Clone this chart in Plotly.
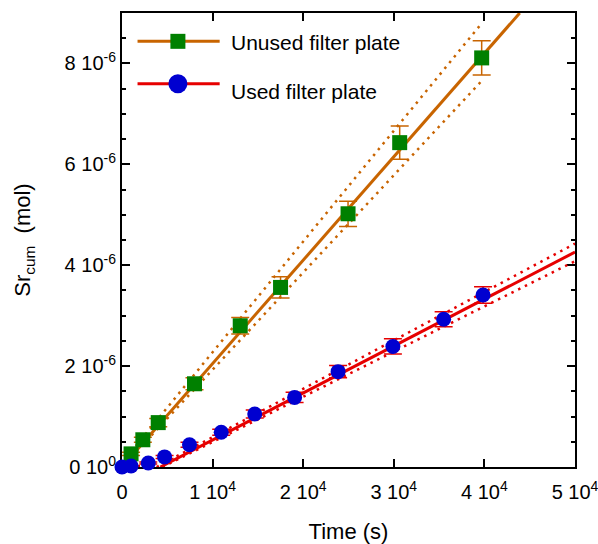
import numpy as np
import plotly.graph_objects as go

# Cumulative Sr release, unused filter plate
time_unused = [1000, 2300, 4000, 8000, 13050, 17500, 24950, 30650, 39700]
sr_unused = [0.26e-6, 0.54e-6, 0.88e-6, 1.65e-6, 2.80e-6, 3.56e-6, 5.02e-6, 6.43e-6, 8.11e-6]
err_unused = [0.03e-6, 0.05e-6, 0.08e-6, 0.12e-6, 0.165e-6, 0.21e-6, 0.25e-6, 0.33e-6, 0.34e-6]

# Cumulative Sr release, used filter plate
time_used = [0, 1000, 2900, 4700, 7450, 10950, 14650, 19050, 23850, 29900, 35500, 39850]
sr_used = [0.0, 0.02e-6, 0.08e-6, 0.20e-6, 0.44e-6, 0.69e-6, 1.05e-6, 1.38e-6, 1.89e-6, 2.39e-6, 2.93e-6, 3.41e-6]
err_used = [0.005e-6, 0.01e-6, 0.02e-6, 0.03e-6, 0.05e-6, 0.06e-6, 0.08e-6, 0.10e-6, 0.12e-6, 0.15e-6, 0.15e-6, 0.165e-6]

# Linear fits (slope, intercept) and their band lines
unused_fit = (2.05e-10, 0.0)
unused_upper = (2.195e-10, 0.08e-6)
unused_lower = (1.928e-10, 0.0)
used_fit = (9.31e-11, -0.3947e-6)
used_upper = (9.59e-11, -0.3666e-6)
used_lower = (8.96e-11, -0.3999e-6)

# Axis ticks
x_max, y_max = 5e4, 9e-6
x_tickvals = [0, 1e4, 2e4, 3e4, 4e4, 5e4]
x_ticktext = ["0", "1 10<sup>4</sup>", "2 10<sup>4</sup>", "3 10<sup>4</sup>",
              "4 10<sup>4</sup>", "5 10<sup>4</sup>"]
y_tickvals = [0, 2e-6, 4e-6, 6e-6, 8e-6]
y_ticktext = ["0 10<sup>0</sup>", "2 10<sup>-6</sup>", "4 10<sup>-6</sup>",
              "6 10<sup>-6</sup>", "8 10<sup>-6</sup>"]

ORANGE = "#c86400"
GREEN = "#008000"
RED = "#e60000"
BLUE = "#0000d0"
FONT = "Liberation Sans, Arial, sans-serif"


def line_xy(params, x0, x1, n=200):
    s, b = params
    x = np.linspace(x0, x1, n)
    return x, s * x + b


def zero_cross(params):
    s, b = params
    return max(0.0, -b / s)


fig = go.Figure()

# band lines (dotted)
for params, color, x0, x1 in [
    (unused_upper, ORANGE, min(time_unused), max(time_unused)),
    (unused_lower, ORANGE, min(time_unused), max(time_unused)),
    (used_upper, RED, zero_cross(used_upper), x_max),
    (used_lower, RED, zero_cross(used_lower), x_max),
]:
    x, y = line_xy(params, x0, x1)
    fig.add_trace(go.Scatter(x=x, y=y, mode="lines", showlegend=False, hoverinfo="skip",
                             line=dict(color=color, width=2.5, dash="2.5px,5px")))

# fit lines
x, y = line_xy(unused_fit, zero_cross(unused_fit), (y_max - unused_fit[1]) / unused_fit[0])
fig.add_trace(go.Scatter(x=x, y=y, mode="lines", showlegend=False, hoverinfo="skip",
                         line=dict(color=ORANGE, width=3)))
x, y = line_xy(used_fit, zero_cross(used_fit), x_max)
fig.add_trace(go.Scatter(x=x, y=y, mode="lines", showlegend=False, hoverinfo="skip",
                         line=dict(color=RED, width=3)))

# data points with error bars
fig.add_trace(go.Scatter(
    x=time_unused, y=sr_unused, mode="markers", name="Unused filter plate",
    showlegend=False, cliponaxis=False,
    marker=dict(symbol="square", size=15, color=GREEN, line=dict(width=0)),
    error_y=dict(type="data", array=err_unused, color=ORANGE, thickness=1.5, width=9),
))
fig.add_trace(go.Scatter(
    x=time_used, y=sr_used, mode="markers", name="Used filter plate",
    showlegend=False, cliponaxis=False,
    marker=dict(symbol="circle", size=15, color=BLUE, line=dict(width=0)),
    error_y=dict(type="data", array=err_used, color=RED, thickness=1.5, width=9),
))

# legend drawn with shapes and annotations (long line samples)
shapes = []
annotations = []
legend_rows = [
    ("Unused filter plate", ORANGE, GREEN, "rect", 0.9376, 0.9346, 15),
    ("Used filter plate", RED, BLUE, "circle", 0.8443, 0.8273, 19),
]
for label, lcolor, mcolor, mshape, ly, ty, msize in legend_rows:
    shapes.append(dict(type="line", xref="paper", yref="paper",
                       x0=0.0343, x1=0.2156, y0=ly, y1=ly,
                       line=dict(color=lcolor, width=3)))
    half = msize / 2
    shapes.append(dict(type=mshape, xref="paper", yref="paper",
                       xsizemode="pixel", ysizemode="pixel",
                       xanchor=0.1234, yanchor=ly,
                       x0=-half, x1=half, y0=-half, y1=half,
                       fillcolor=mcolor, line=dict(width=0)))
    annotations.append(dict(text=label, xref="paper", yref="paper", x=0.2362, y=ty,
                            xanchor="left", yanchor="middle", showarrow=False,
                            font=dict(family=FONT, size=21, color="black")))

axis_common = dict(
    showgrid=False, zeroline=False, showline=True, linecolor="black", linewidth=2,
    mirror="ticks", ticks="inside", ticklen=8, tickwidth=2, tickcolor="black",
    tickfont=dict(family=FONT, size=20, color="black"), layer="below traces",
    ticklabeloverflow="allow", automargin=False,
)

fig.update_layout(
    width=598, height=544,
    margin=dict(l=122, r=23, t=13, b=77),
    paper_bgcolor="white", plot_bgcolor="white",
    font=dict(family=FONT, size=20, color="black"),
    shapes=shapes, annotations=annotations,
    xaxis=dict(range=[0, x_max], tickmode="array", tickvals=x_tickvals, ticktext=x_ticktext,
               ticklabelstandoff=6,
               title=dict(text="Time (s)", font=dict(family=FONT, size=22), standoff=23),
               **axis_common),
    yaxis=dict(range=[0, y_max], tickmode="array", tickvals=y_tickvals, ticktext=y_ticktext,
               minor=dict(tickmode="linear", tick0=0, dtick=0.5e-6, ticks="inside",
                          ticklen=4, tickwidth=2, tickcolor="black"),
               title=dict(text="Sr<sub>cum</sub>  (mol)", font=dict(family=FONT, size=22),
                          standoff=28),
               **axis_common),
    showlegend=False,
)

fig.write_html("out.html")
